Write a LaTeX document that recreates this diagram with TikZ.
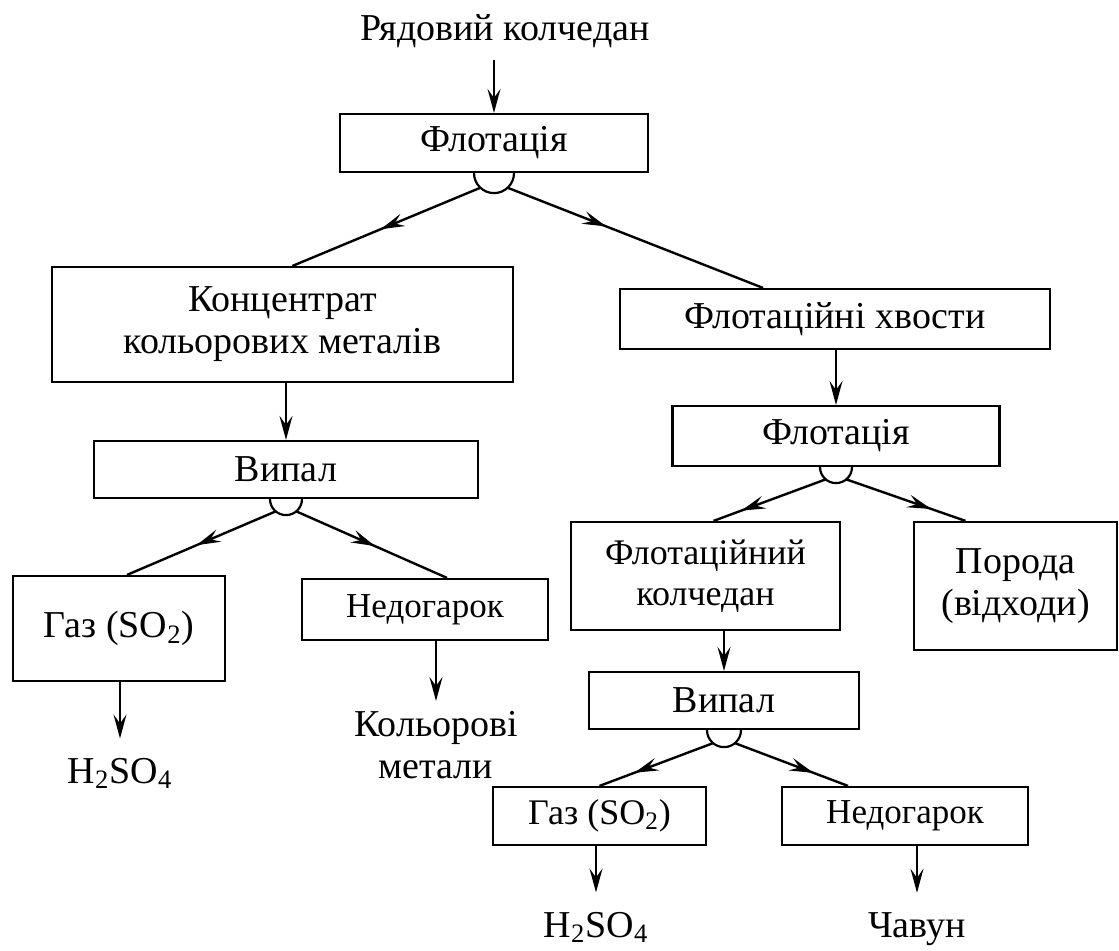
\documentclass[tikz,border=0pt]{standalone}
\usepackage{fontspec}
\setmainfont{Liberation Serif}
\usetikzlibrary{arrows.meta,positioning,calc,decorations.markings}

\tikzset{
  stage/.style={draw,line width=1.1pt,inner sep=0pt,align=center},
  product/.style={inner sep=9.5pt,align=center},
  smalltext/.style={font=\fontsize{17.5}{21}\selectfont},
  feed/.style={line width=1.1pt,-{Stealth[length=12pt,width=6.5pt,inset=4.5pt]}},
  splitline/.style={line width=1.2pt,postaction={decorate},
    decoration={markings,mark=at position #1 with {\arrow{Stealth[length=12pt,width=6.5pt,inset=4.5pt]}}}},
}

\begin{document}
\begin{tikzpicture}[x=0.5pt,y=-0.5pt,font=\fontsize{19}{21}\selectfont]
  \useasboundingbox (0,0) rectangle (1119,950);
  \node[anchor=base] (ore) at (505,40) {Рядовий колчедан};
  \node[stage,minimum width=154pt,minimum height=29pt] (flot1) at (494,143) {Флотація};
  \node[stage,minimum width=230.5pt,minimum height=57.5pt] (konc) at (282.5,324.5) {Концентрат\\кольорових металів};
  \node[stage,minimum width=215pt,minimum height=30pt] (tail) at (835,319) {Флотаційні хвости};
  \node[stage,minimum width=192pt,minimum height=28.5pt] (vyp1) at (286,469.5) {Випал};
  \node[stage,minimum width=106pt,minimum height=52.5pt] (gas1) at (119,628.5) {Газ (SO\textsubscript{2})};
  \node[stage,smalltext,minimum width=123pt,minimum height=30.5pt] (ned1) at (425,609.5) {Недогарок};
  \node[product,anchor=base] (acid1) at (120,783) {H\textsubscript{2}SO\textsubscript{4}};
  \node[product,anchor=north,inner sep=5pt] (kolmet) at (436,701) {Кольорові\\метали};
  \node[stage,minimum width=163.5pt,minimum height=30pt] (flot2) at (836,436) {Флотація};
  \node[stage,font=\fontsize{18}{20.5}\selectfont,minimum width=134.5pt,minimum height=54pt] (fk) at (705.5,576) {Флотаційний\\колчедан};
  \node[stage,minimum width=101.5pt,minimum height=64pt] (rock) at (1015.5,586) {Порода\\(відходи)};
  \node[stage,minimum width=135pt,minimum height=28.5pt] (vyp3) at (724,700.5) {Випал};
  \node[stage,font=\fontsize{18}{21}\selectfont,minimum width=106.5pt,minimum height=29pt] (gas2) at (599.5,816) {Газ (SO\textsubscript{2})};
  \node[stage,smalltext,minimum width=123pt,minimum height=29pt] (ned2) at (905,816) {Недогарок};
  \node[product,anchor=base] (acid2) at (596,937) {H\textsubscript{2}SO\textsubscript{4}};
  \node[product,anchor=base] (iron) at (917,937) {Чавун};

  % straight feeds
  \draw[feed,shorten <=3pt] (ore.south -| flot1.north) -- (flot1.north);
  \draw[feed] (konc.south -| vyp1.north) -- (vyp1.north);
  \draw[feed] (tail.south -| flot2.north) -- (flot2.north);
  \draw[feed] (fk.south -| vyp3.north) -- (vyp3.north);
  \draw[feed] (gas1.south -| acid1.north) -- (acid1.north);
  \draw[feed] (ned1.south -| kolmet.north) -- (kolmet.north);
  \draw[feed] (gas2.south -| acid2.north) -- (acid2.north);
  \draw[feed] (ned2.south -| iron.north) -- (iron.north);

  % splitting cups
  \foreach \n/\r in {flot1/10pt,vyp1/8pt,flot2/8pt,vyp3/8.5pt}
    \draw[line width=1.1pt] ($(\n.south)+(-\r,0)$) arc[start angle=180,end angle=360,radius=\r];

  \draw[splitline=54pt] ($(flot1.south)+(227:10pt)$) -- ($(konc.north)+(5pt,0)$);
  \draw[splitline=53pt] ($(flot1.south)+(313:10pt)$) -- ($(tail.north)+(-36pt,0)$);
  \draw[splitline=43pt] ($(vyp1.south)+(230:8pt)$) -- ($(gas1.north)+(4pt,0)$);
  \draw[splitline=43pt] ($(vyp1.south)+(310:8pt)$) -- ($(ned1.north)+(11pt,0)$);
  \draw[splitline=45pt] ($(flot2.south)+(230:8pt)$) -- ($(fk.north)+(4pt,0)$);
  \draw[splitline=45pt] ($(flot2.south)+(310:8pt)$) -- ($(rock.north)+(-25pt,0)$);
  \draw[splitline=42pt] ($(vyp3.south)+(230:8.5pt)$) -- (gas2.north);
  \draw[splitline=42pt] ($(vyp3.south)+(310:8.5pt)$) -- ($(ned2.north)+(-28.5pt,0)$);
\end{tikzpicture}
\end{document}
